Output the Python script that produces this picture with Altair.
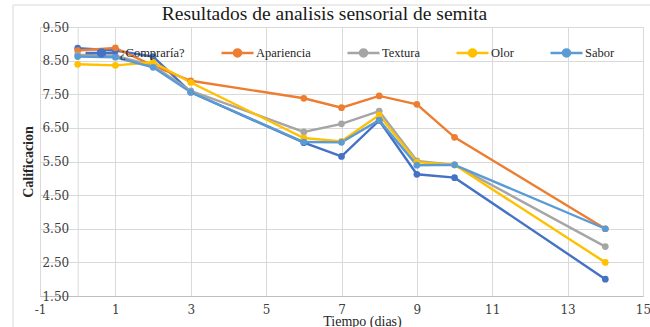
import altair as alt
import pandas as pd

days = [0, 1, 2, 3, 6, 7, 8, 9, 10, 14]
compraria = [8.87, 8.80, 8.62, 7.56, 6.06, 5.65, 6.72, 5.12, 5.02, 2.00]
apariencia = [8.80, 8.88, 8.35, 7.90, 7.38, 7.10, 7.45, 7.20, 6.22, 3.50]
textura = [8.67, 8.65, 8.35, 7.60, 6.38, 6.62, 7.00, 5.52, 5.40, 2.97]
olor = [8.39, 8.36, 8.45, 7.85, 6.20, 6.10, 6.88, 5.48, 5.40, 2.50]
sabor = [8.62, 8.60, 8.30, 7.56, 6.08, 6.07, 6.73, 5.39, 5.40, 3.50]

series_names = ["¿Compraría?", "Apariencia", "Textura", "Olor", "Sabor"]
series_colors = ["#4472C4", "#ED7D31", "#A5A5A5", "#FFC000", "#5B9BD5"]
y_ticks = [1.5, 2.5, 3.5, 4.5, 5.5, 6.5, 7.5, 8.5, 9.5]
x_ticks = [-1, 1, 3, 5, 7, 9, 11, 13, 15]

rows = []
for name, vals in zip(series_names, [compraria, apariencia, textura, olor, sabor]):
    for d, v in zip(days, vals):
        rows.append({"serie": name, "dia": d, "valor": v})
df = pd.DataFrame(rows)

TICKFONT = "DejaVu Serif"
SERIF = "Liberation Serif"
W, H = 603, 269

xscale = alt.Scale(domain=[-1, 15], nice=False, zero=False)
yscale = alt.Scale(domain=[1.5, 9.5], nice=False, zero=False)
cscale = alt.Scale(domain=series_names, range=series_colors)

xaxis = alt.Axis(
    values=x_ticks,
    labelExpr="'' + datum.value",
    title="Tiempo (dias)",
    titleX=322,
    titleY=29,
    titleBaseline="alphabetic",
    titleFontWeight="normal",
    labelPadding=8,
    domainColor="#BFBFBF",
)
yaxis = alt.Axis(
    values=y_ticks,
    format=".2f",
    title="Calificacion",
    titleFontWeight="bold",
    titleX=-49,
    titleBaseline="middle",
    labelPadding=9,
    domainColor="#D9D9D9",
    offset=-37.7,
)

legend = alt.Legend(
    title=None,
    orient="none",
    legendX=44,
    legendY=8,
    padding=0,
    direction="horizontal",
    columns=5,
    columnPadding=31,
    symbolType="M-1,0L1,0M-0.22,0A0.22,0.22 0 1,1 0.22,0A0.22,0.22 0 1,1 -0.22,0",
    symbolSize=1024,
    symbolStrokeWidth=2.5,
    labelOffset=1,
    labelFont=SERIF,
    labelFontSize=12.5,
    labelColor="#262626",
)

base = alt.Chart(df).encode(
    x=alt.X("dia:Q", scale=xscale, axis=xaxis),
    y=alt.Y("valor:Q", scale=yscale, axis=yaxis),
    color=alt.Color("serie:N", scale=cscale, sort=series_names, legend=legend),
)

lines = base.mark_line(strokeWidth=2.4).encode(order=alt.Order("dia:Q"))
points = base.mark_point(filled=True, size=45, opacity=1)

# outer chart border (light gray frame)
frame_top = alt.Chart(pd.DataFrame({"a": [0]})).mark_rule(color="#D9D9D9", strokeWidth=1).encode(
    x=alt.value(-27), x2=alt.value(640), y=alt.value(-22)
)
frame_left = alt.Chart(pd.DataFrame({"a": [0]})).mark_rule(color="#D9D9D9", strokeWidth=1).encode(
    x=alt.value(-27), y=alt.value(-22), y2=alt.value(320)
)

chart = alt.layer(frame_top, frame_left, lines, points).properties(
    width=W,
    height=H,
    title=alt.TitleParams(
        "Resultados de analisis sensorial de semita",
        font=SERIF,
        fontSize=19.5,
        fontWeight="normal",
        color="#1a1a1a",
        anchor="middle",
        dx=-17,
        dy=20,
        offset=0,
    ),
    autosize=alt.AutoSizeParams(type="none"),
    padding={"left": 40, "top": 27, "right": 7, "bottom": 31},
).configure_view(stroke=None).configure(background="white", font=SERIF).configure_axis(
    labelFont=TICKFONT,
    labelFontSize=12,
    labelColor="#404040",
    labelOverlap=False,
    labelFlush=False,
    titleFont=SERIF,
    titleFontSize=14,
    titleColor="#262626",
    ticks=False,
    gridColor="#D9D9D9",
)

chart.save("out.html", embed_options={"renderer": "svg", "actions": False})
